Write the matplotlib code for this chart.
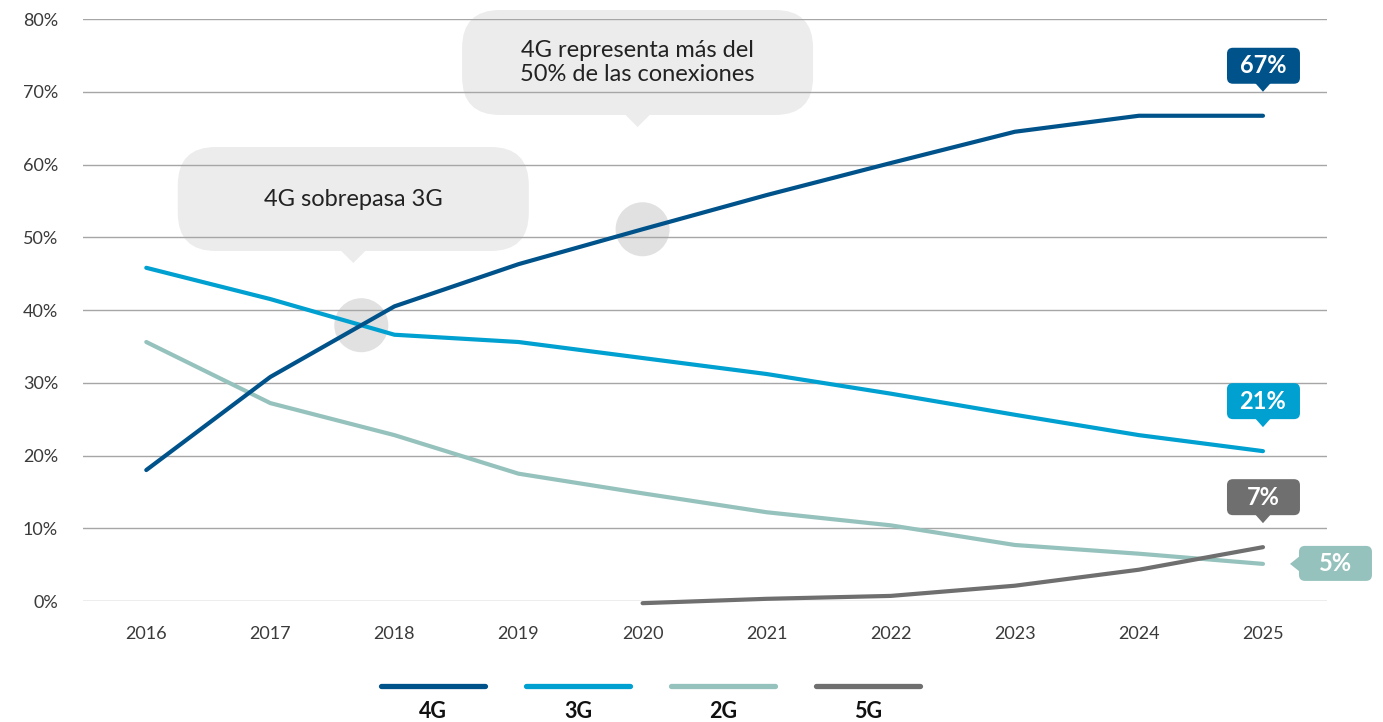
import numpy as np
import matplotlib
matplotlib.use('Agg')
import matplotlib.pyplot as plt
from matplotlib.patches import FancyBboxPatch, Polygon, Circle
from matplotlib.lines import Line2D

plt.rcParams['font.family'] = ['Lato', 'DejaVu Sans']

years = [2016, 2017, 2018, 2019, 2020, 2021, 2022, 2023, 2024, 2025]
share_4g = [18.0, 30.8, 40.5, 46.3, 51.1, 55.8, 60.2, 64.5, 66.7, 66.7]
share_3g = [45.8, 41.5, 36.6, 35.6, 33.4, 31.2, 28.5, 25.6, 22.8, 20.6]
share_2g = [35.6, 27.2, 22.8, 17.5, 14.8, 12.2, 10.4, 7.7, 6.5, 5.1]
years_5g = [2020, 2021, 2022, 2023, 2024, 2025]
share_5g = [-0.3, 0.3, 0.7, 2.1, 4.3, 7.4]

series = ['4G', '3G', '2G', '5G']
colors = {'4G': '#00538a', '3G': '#00a0d1', '2G': '#96c2bd', '5G': '#6f6f6f'}
yticks = [0, 10, 20, 30, 40, 50, 60, 70, 80]

note_cross = '4G sobrepasa 3G'
note_half = '4G representa más del\n50% de las conexiones'

W, H = 1383, 722
fig = plt.figure(figsize=(W / 100, H / 100), dpi=100)
ax = fig.add_axes([83 / W, (H - 601) / H, (1327 - 83) / W, (601 - 19) / H])
ax.set_xlim(2015.49, 2025.516)
ax.set_ylim(0, 80)

for s in ax.spines.values():
    s.set_visible(False)
ax.set_yticks(yticks)
ax.set_yticklabels([f'{v}%' for v in yticks])
ax.set_xticks(years)
ax.set_xticklabels([str(y) for y in years])
ax.tick_params(length=0, labelsize=13, labelcolor='#3a3a3a')
ax.tick_params(axis='y', pad=18)
ax.tick_params(axis='x', pad=18)
ax.grid(axis='y', color='#a6a6a6', lw=1)
ax.set_axisbelow(True)

lw = 3.0
ax.plot(years, share_4g, color=colors['4G'], lw=lw, solid_capstyle='round', zorder=5, clip_on=False)
ax.plot(years, share_3g, color=colors['3G'], lw=lw, solid_capstyle='round', zorder=4, clip_on=False)
ax.plot(years, share_2g, color=colors['2G'], lw=lw, solid_capstyle='round', zorder=3, clip_on=False)
ax.plot(years_5g, share_5g, color=colors['5G'], lw=lw, solid_capstyle='round', zorder=3, clip_on=False)

# overlays in pixel units: one behind the lines (bubbles), one on top (tags, legend)
ov = fig.add_axes([0, 0, 1, 1], zorder=-1)
ov.set_xlim(0, W)
ov.set_ylim(0, H)
ov.axis('off')
top = fig.add_axes([0, 0, 1, 1], zorder=10)
top.set_xlim(0, W)
top.set_ylim(0, H)
top.axis('off')
ax.set_zorder(1)
ax.patch.set_alpha(0)


def px(x, y):
    return ax.transData.transform((x, y))


# where 4G overtakes 3G
a4, a3 = np.array(share_4g), np.array(share_3g)
i = int(np.argmax(a4 > a3)) - 1
t = (a3[i] - a4[i]) / ((a4[i + 1] - a4[i]) - (a3[i + 1] - a3[i]))
cross = (years[i] + t, a4[i] + t * (a4[i + 1] - a4[i]))
half = (2020, share_4g[years.index(2020)])


def bubble(cx, cy, text, box_top, box_bot, dx=0, width=351):
    bx = cx + dx
    x0 = bx - width / 2
    ov.add_patch(Circle((cx, cy), 27, color='#e1e1e1', lw=0))
    ov.add_patch(FancyBboxPatch((x0, H - box_bot), width, box_bot - box_top,
                                boxstyle='round,pad=0,rounding_size=38',
                                fc='#ececec', ec='none'))
    ov.add_patch(Polygon([(bx - 12, H - box_bot), (bx + 12, H - box_bot),
                          (bx, H - box_bot - 12)], closed=True, fc='#ececec', ec='none'))
    ov.text(bx, H - (box_top + box_bot) / 2, text, ha='center', va='center',
            fontsize=17, color='#222222', linespacing=1.15)


cx1, cy1 = px(*cross)
bubble(cx1, cy1, note_cross, 147, 251, dx=-8)
cx2, cy2 = px(*half)
bubble(cx2, cy2, note_half, 10, 115, dx=-5)


def tag_above(x, y, text, color, gap=24):
    tx, ty = px(x, y)
    tip = ty + gap
    top.add_patch(FancyBboxPatch((tx - 36, tip + 8), 73, 36,
                                 boxstyle='round,pad=0,rounding_size=6',
                                 fc=color, ec='none'))
    top.add_patch(Polygon([(tx - 8, tip + 9), (tx + 8, tip + 9), (tx, tip)],
                          closed=True, fc=color, ec='none'))
    top.text(tx, tip + 26, text, ha='center', va='center', fontsize=17,
             fontweight='bold', color='white')


def tag_right(x, y, text, color, gap=27):
    tx, ty = px(x, y)
    tip = tx + gap
    top.add_patch(FancyBboxPatch((tip + 9, ty - 17), 73, 35,
                                 boxstyle='round,pad=0,rounding_size=6',
                                 fc=color, ec='none'))
    top.add_patch(Polygon([(tip + 10, ty - 8), (tip + 10, ty + 8), (tip, ty)],
                          closed=True, fc=color, ec='none'))
    top.text(tip + 46, ty, text, ha='center', va='center', fontsize=17,
             fontweight='bold', color='white')


tag_above(years[-1], share_4g[-1], f'{share_4g[-1]:.0f}%', colors['4G'])
tag_above(years[-1], share_3g[-1], f'{share_3g[-1]:.0f}%', colors['3G'])
tag_above(years_5g[-1], share_5g[-1], f'{share_5g[-1]:.0f}%', colors['5G'])
tag_right(years[-1], share_2g[-1], f'{share_2g[-1]:.0f}%', colors['2G'])

# legend: line with bold label underneath
for k, name in enumerate(series):
    x0 = 378 + k * 145
    top.add_line(Line2D([x0 + 3, x0 + 107], [H - 686, H - 686], color=colors[name],
                        lw=3.8, solid_capstyle='round'))
    top.text(x0 + 55, H - 711, name, ha='center', va='center', fontsize=15.5,
             fontweight='bold', color='#111111')

fig.savefig('out.png', dpi=100)
